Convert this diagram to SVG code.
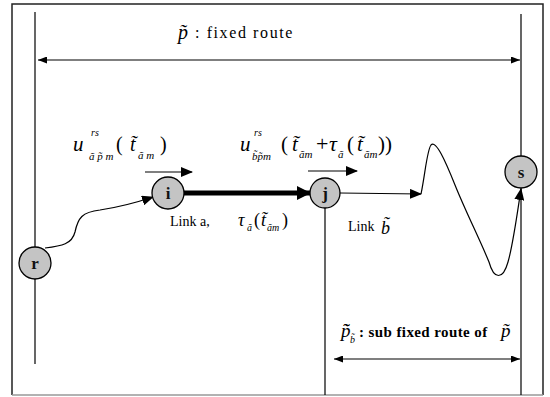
<svg xmlns="http://www.w3.org/2000/svg" width="550" height="397" viewBox="0 0 550 397">
<defs>
<marker id="ah" markerWidth="12" markerHeight="10" refX="11" refY="5" orient="auto" markerUnits="userSpaceOnUse">
<path d="M0,0 L12,5 L0,10 z" fill="#000"/>
</marker>
<marker id="ahs" markerWidth="9" markerHeight="7" refX="9" refY="3.5" orient="auto" markerUnits="userSpaceOnUse">
<path d="M0,0 L9,3.5 L0,7 z" fill="#000"/>
</marker>
<marker id="ahsr" markerWidth="9" markerHeight="7" refX="0" refY="3.5" orient="auto" markerUnits="userSpaceOnUse">
<path d="M9,0 L0,3.5 L9,7 z" fill="#000"/>
</marker>
<marker id="ahb" markerWidth="14" markerHeight="14" refX="13" refY="7" orient="auto" markerUnits="userSpaceOnUse">
<path d="M0,0 L14,7 L0,14 z" fill="#000"/>
</marker>
</defs>
<style>
.ln{stroke:#000;stroke-width:1.2;fill:none}
.fr{stroke:#222;stroke-width:1.5;fill:none}
.nd{fill:#c4c4c4;stroke:#000;stroke-width:1.3}
.nl{font-family:"Liberation Serif",serif;font-weight:bold;font-size:17px;fill:#111;text-anchor:middle}
.m{font-family:"Liberation Serif",serif;font-style:italic;fill:#000}
.t{font-family:"Liberation Serif",serif;fill:#000}
</style>
<g id="frame">
<path class="fr" d="M12,395 L12,4 L543,4 L543,395"/>
<path d="M12,395 L543,395" stroke="#999" stroke-width="1.5"/>
</g>
<g id="connectors">
<line class="ln" x1="35" y1="12" x2="35" y2="364"/>
<line class="ln" x1="521" y1="14" x2="521" y2="395"/>
<line class="ln" x1="325" y1="208" x2="325" y2="395"/>
<line class="ln" x1="38" y1="60" x2="520" y2="60" marker-start="url(#ahsr)" marker-end="url(#ahs)"/>
<line class="ln" x1="334" y1="359" x2="520" y2="359" marker-start="url(#ahsr)" marker-end="url(#ahs)"/>
<line class="ln" x1="145" y1="172" x2="192" y2="172" marker-end="url(#ah)"/>
<line class="ln" x1="308" y1="171" x2="357" y2="171" marker-end="url(#ah)"/>
<path class="ln" d="M45,248 C62,246 72,244 75,232 C78,218 82,212 100,210 C120,207 135,203 153,197" marker-end="url(#ah)"/>
<line x1="184" y1="193" x2="310" y2="193" stroke="#000" stroke-width="5" marker-end="url(#ahb)"/>
<line class="ln" x1="340" y1="193" x2="421" y2="194" marker-end="url(#ah)"/>
<path class="ln" d="M421,194 C425,175 427,150 431,145 C436,140 445,160 455,185 C465,210 480,240 489,262 C494,280 503,280 508,262 C513,245 517,215 521,189" marker-end="url(#ah)"/>
</g>
<g id="node-r"><circle class="nd" cx="35" cy="263" r="16"/><text class="nl" x="35" y="269">r</text></g>
<g id="node-i"><circle class="nd" cx="168" cy="193" r="16"/><text class="nl" x="168" y="199">i</text></g>
<g id="node-j"><circle class="nd" cx="325" cy="193" r="15"/><text class="nl" x="325" y="199">j</text></g>
<g id="node-s"><circle class="nd" cx="521" cy="172" r="16"/><text class="nl" x="521" y="178">s</text></g>
<g id="labels">
<text class="m" x="178" y="39" font-size="20">p̃</text>
<text class="t" x="195" y="38" font-size="16" letter-spacing="1.6">:  fixed  route</text>
<text class="m" x="73" y="151" font-size="21">u</text>
<text class="m" x="91" y="136" font-size="10">rs</text>
<text class="m" x="89" y="160" font-size="11">ã p̃ m</text>
<text class="t" x="116" y="151" font-size="20">(</text>
<text class="m" x="130" y="151" font-size="20">t̃</text>
<text class="m" x="138" y="159" font-size="11">ã m</text>
<text class="t" x="160" y="151" font-size="20">)</text>
<text class="m" x="240" y="151" font-size="21">u</text>
<text class="m" x="254" y="136" font-size="10">rs</text>
<text class="m" x="252" y="160" font-size="11">b̃p̃m</text>
<text class="t" x="281" y="151" font-size="21">(</text>
<text class="m" x="292" y="151" font-size="21">t̃</text>
<text class="m" x="299" y="158" font-size="11">ãm</text>
<text class="t" x="316" y="151" font-size="22">+</text>
<text class="m" x="329" y="151" font-size="22">τ</text>
<text class="m" x="338" y="158" font-size="11">ã</text>
<text class="t" x="347" y="151" font-size="21">(</text>
<text class="m" x="357" y="151" font-size="21">t̃</text>
<text class="m" x="364" y="158" font-size="11">ãm</text>
<text class="t" x="378" y="151" font-size="21">))</text>
<text class="t" x="170" y="226" font-size="14">Link a,</text>
<text class="m" x="238" y="226" font-size="18">τ</text>
<text class="m" x="247" y="231" font-size="10">ã</text>
<text class="t" x="254" y="226" font-size="18">(</text>
<text class="m" x="261" y="226" font-size="18">t̃</text>
<text class="m" x="267" y="231" font-size="10">ãm</text>
<text class="t" x="282" y="226" font-size="18">)</text>
<text class="t" x="348" y="231" font-size="14">Link</text>
<text class="m" x="381" y="234" font-size="18">b̃</text>
<text class="m" x="341" y="337" font-size="19">p̃̃</text>
<text class="m" x="350" y="343" font-size="10">b̃</text>
<text class="t" x="359" y="337" font-size="15" font-weight="bold" letter-spacing="0.4">: sub fixed route of</text>
<text class="m" x="501" y="337" font-size="19">p̃</text>
</g>
</svg>
